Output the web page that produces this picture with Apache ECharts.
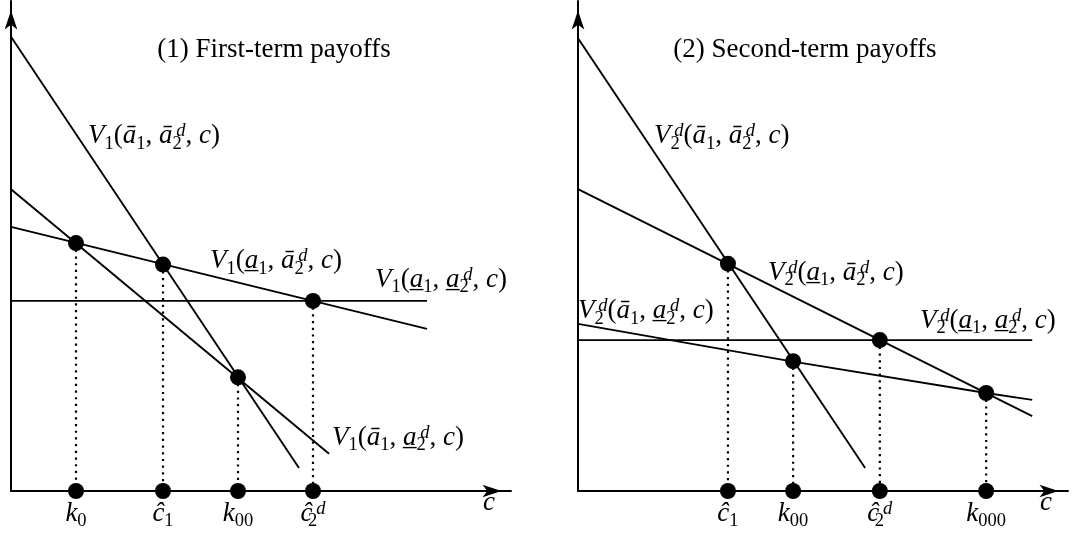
<!DOCTYPE html>
<html>
<head>
<meta charset="utf-8">
<script src="https://cdn.jsdelivr.net/npm/echarts@6/dist/echarts.min.js"></script>
<style>
  html, body { margin: 0; padding: 0; background: #ffffff; }
  #chart { width: 1073px; height: 542px; }
</style>
</head>
<body>
<div id="chart"></div>
<script>
// ---------------- data (cost c on the horizontal axis, payoff V vertical) ----------------
// Panel 1: first-term payoffs, each line given by its end points [c, V]
const p1Title = '(1) First-term payoffs';
const p1HiHi = [[0, 9.27], [5.76, 0.47]];   // V1(ā1, ā2d, c)
const p1HiLo = [[0, 6.16], [6.36, 0.76]];   // V1(ā1, a2d, c)
const p1LoHi = [[0, 5.39], [8.32, 3.31]];   // V1(a1, ā2d, c)
const p1LoLo = [[0, 3.88], [8.32, 3.88]];   // V1(a1, a2d, c)
const p1LineNames = [
  'V_1(ā_1, ā^d_2, c)',
  'V_1(ā_1, a\u0332^d_2, c)',
  'V_1(a\u0332_1, ā^d_2, c)',
  'V_1(a\u0332_1, a\u0332^d_2, c)'
];
// thresholds: crossing points and their names on the c axis
const p1CutNames = ['k_0', 'ĉ_1', 'k_{00}', 'ĉ^d_2'];
const p1CutC = [1.3, 3.04, 4.54, 6.04];
const p1CutV = [5.06, 4.62, 2.32, 3.88];

// Panel 2: second-term payoffs
const p2Title = '(2) Second-term payoffs';
const p2HiHi = [[0, 9.24], [5.86, 0.47]];                            // V2d(ā1, ā2d, c)
const p2LoHi = [[0, 6.16], [9.27, 1.53]];                            // V2d(a1, ā2d, c)
const p2HiLo = [[0, 3.41], [4.39, 2.64], [8.33, 2.0], [9.27, 1.86]]; // V2d(ā1, a2d, c)
const p2LoLo = [[0, 3.08], [9.27, 3.08]];                            // V2d(a1, a2d, c)
const p2LineNames = [
  'V^d_2(ā_1, ā^d_2, c)',
  'V^d_2(a\u0332_1, ā^d_2, c)',
  'V^d_2(ā_1, a\u0332^d_2, c)',
  'V^d_2(a\u0332_1, a\u0332^d_2, c)'
];
const p2CutNames = ['ĉ_1', 'k_{00}', 'ĉ^d_2', 'k_{000}'];
const p2CutC = [3.06, 4.39, 6.16, 8.33];
const p2CutV = [4.64, 2.65, 3.08, 2.0];

// ---------------- layout: where each curve label sits, in axis units ----------------
const p1LabelSpots = [[1.54, 7.24], [6.42, 1.08], [3.98, 4.69], [7.28, 4.31]];
const p2LabelSpots = [[1.55, 7.24], [3.88, 4.45], [0.0, 3.67], [6.98, 3.47]];
const p1TitleSpot = [5.26, 9.0];
const p2TitleSpot = [4.63, 9.0];

// ---------------- styles ----------------
const FONT = "'Liberation Serif', 'Times New Roman', serif";
const INK = '#000000';
const FS = 27, FSS = 18.5, LH = 33.5;

const rich = {
  i:   { fontFamily: FONT, fontStyle: 'italic', fontSize: FS, lineHeight: LH, color: INK },
  r:   { fontFamily: FONT, fontSize: FS, lineHeight: LH, color: INK },
  sb:  { fontFamily: FONT, fontSize: FSS, height: FSS, lineHeight: FSS, verticalAlign: 'bottom', color: INK },
  // subscript without advance, so a superscript can be stacked above it
  sbz: { fontFamily: FONT, fontSize: FSS, height: FSS, lineHeight: FSS, verticalAlign: 'bottom', width: 0, color: INK },
  sp:  { fontFamily: FONT, fontStyle: 'italic', fontSize: FSS, height: 23.5, lineHeight: 23.5, verticalAlign: 'top', color: INK },
  ul:  { fontFamily: FONT, fontSize: FS, lineHeight: LH, width: 0, color: INK },
  tt:  { fontFamily: FONT, fontSize: FS, lineHeight: LH, color: INK }
};

const it = t => `{i|${t}}`;
const rm = t => `{r|${t}}`;
const under = t => `{ul|_}` + it(t);

// tiny math markup -> rich text: _x / _{xx} subscript, ^x superscript, x\u0332 underlined
function tex(s) {
  let out = '';
  let i = 0;
  const readArg = () => {
    let arg;
    if (s[i + 1] === '{') { const j = s.indexOf('}', i); arg = s.slice(i + 2, j); i = j + 1; }
    else { arg = s[i + 1]; i += 2; }
    return arg;
  };
  while (i < s.length) {
    const ch = s[i];
    if (ch === '_' || ch === '^') {
      let sub = null, sup = null;
      while (i < s.length && (s[i] === '_' || s[i] === '^')) {
        if (s[i] === '_') sub = readArg(); else sup = readArg();
      }
      if (sub !== null && sup !== null) out += `{sbz|${sub}}{sp|\u2009${sup}}`;
      else if (sub !== null) out += `{sb|${sub}}`;
      else out += `{sp|\u2009${sup}}`;
      continue;
    }
    if (s[i + 1] === '\u0332') { out += under(ch); i += 2; continue; }
    out += /[A-Za-zāĉ]/.test(ch) ? it(ch) : rm(ch);
    i++;
  }
  return out;
}

function axisLine() {
  return {
    show: true,
    symbol: ['none', 'arrow'],
    symbolSize: [9.5, 19],
    symbolOffset: [0, -9.5],
    lineStyle: { color: INK, width: 2 }
  };
}

function xAxisFor(gi) {
  return {
    type: 'value', gridIndex: gi, min: 0, max: 10,
    axisLine: axisLine(), axisTick: { show: false }, axisLabel: { show: false },
    splitLine: { show: false },
    name: 'c', nameLocation: 'end', nameGap: -28,
    nameTextStyle: { fontFamily: FONT, fontStyle: 'italic', fontSize: FS, color: INK,
                     align: 'left', verticalAlign: 'top', lineHeight: 24 }
  };
}
function yAxisFor(gi) {
  return {
    type: 'value', gridIndex: gi, min: 0, max: 10,
    axisLine: axisLine(), axisTick: { show: false }, axisLabel: { show: false },
    splitLine: { show: false }
  };
}

function panelSeries(gi, lines, names, spots, cutNames, cutC, cutV, title, titleSpot) {
  const series = [];
  const ax = { xAxisIndex: gi, yAxisIndex: gi };
  // dotted drops from each crossing to the c axis
  cutC.forEach((c, k) => {
    series.push(Object.assign({
      type: 'line', data: [[c, cutV[k]], [c, 0]], showSymbol: false, silent: true, z: 1,
      lineStyle: { color: INK, width: 2.2, type: [2.2, 4.5] }
    }, ax));
  });
  // payoff lines
  lines.forEach(pts => {
    series.push(Object.assign({
      type: 'line', data: pts, showSymbol: false, silent: true, z: 2,
      lineStyle: { color: INK, width: 1.9 }
    }, ax));
  });
  // crossing points
  series.push(Object.assign({
    type: 'scatter', symbolSize: 16, z: 3, itemStyle: { color: INK, opacity: 1 },
    data: cutC.map((c, k) => [c, cutV[k]])
  }, ax));
  // threshold points on the c axis with their names
  series.push(Object.assign({
    type: 'scatter', symbolSize: 16, z: 3, itemStyle: { color: INK, opacity: 1 },
    data: cutC.map((c, k) => ({
      value: [c, 0],
      label: { show: true, position: 'bottom', distance: -2, formatter: () => tex(cutNames[k]), rich }
    }))
  }, ax));
  // curve labels and panel title
  const textItems = names.map((n, k) => ({
    value: spots[k],
    label: { show: true, position: 'right', distance: 0, formatter: () => tex(n), rich }
  }));
  textItems.push({
    value: titleSpot,
    label: { show: true, position: 'inside', align: 'center', verticalAlign: 'middle',
             formatter: () => `{tt|${title}}`, rich }
  });
  series.push(Object.assign({
    type: 'scatter', symbolSize: 0, z: 4, silent: true,
    itemStyle: { color: 'rgba(0,0,0,0)', opacity: 1 },
    data: textItems
  }, ax));
  return series;
}

const chart = echarts.init(document.getElementById('chart'), null, { renderer: 'canvas' });
chart.setOption({
  animation: false,
  backgroundColor: '#ffffff',
  grid: [
    { left: 11, top: 1, width: 500, height: 490 },
    { left: 578, top: 1, width: 490, height: 490 }
  ],
  xAxis: [xAxisFor(0), xAxisFor(1)],
  yAxis: [yAxisFor(0), yAxisFor(1)],
  series: [].concat(
    panelSeries(0, [p1HiHi, p1HiLo, p1LoHi, p1LoLo], p1LineNames, p1LabelSpots,
                p1CutNames, p1CutC, p1CutV, p1Title, p1TitleSpot),
    panelSeries(1, [p2HiHi, p2LoHi, p2HiLo, p2LoLo], p2LineNames, p2LabelSpots,
                p2CutNames, p2CutC, p2CutV, p2Title, p2TitleSpot)
  )
});
</script>
</body>
</html>
